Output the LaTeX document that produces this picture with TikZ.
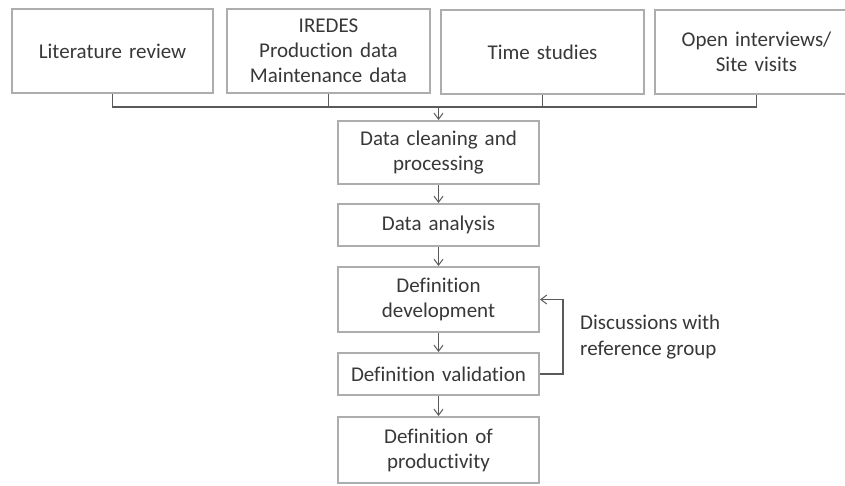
\documentclass[tikz,border=0pt]{standalone}
\usepackage{fontspec}
\setmainfont{Carlito}[Ligatures=NoCommon]
\usetikzlibrary{arrows.meta}
\definecolor{boxgray}{HTML}{ADADAD}
\definecolor{linegray}{HTML}{5A5A5A}
\definecolor{textgray}{HTML}{383838}
\begin{document}
\begin{tikzpicture}[x=1pt,y=-1pt,
  box/.style={draw=boxgray,line width=2pt,fill=white,align=center,text=textgray,
    font=\fontsize{21}{25}\selectfont,inner sep=2pt,text width=197pt},
  conn/.style={draw=linegray,line width=1.2pt},
  arr/.style={conn,-{Straight Barb[length=6pt,width=9pt,line width=1pt]}}]
\clip (0,0) rectangle (845,485);
\fill[white] (0,0) rectangle (845,485);
% top boxes
\node[box,minimum width=201pt,minimum height=84pt] (lit) at (112.5,51) {Literature review};
\node[box,minimum width=203pt,minimum height=84pt] (ire) at (328.5,51) {IREDES\\Production data\\Maintenance data};
\node[box,minimum width=203pt,minimum height=84pt] (tim) at (542.5,52) {Time studies};
\node[box,minimum width=203pt,minimum height=84pt] (opn) at (756.5,52) {Open interviews/\\Site visits};
% flow boxes
\node[box,minimum width=201pt,minimum height=63pt] (cln) at (438.5,152.5) {Data cleaning and\\processing};
\node[box,minimum width=201pt,minimum height=42pt] (ana) at (438.5,225) {Data analysis};
\node[box,minimum width=201pt,minimum height=65pt] (dev) at (438.5,299.5) {Definition\\development};
\node[box,minimum width=201pt,minimum height=42pt] (val) at (438.5,374) {Definition validation};
\node[box,minimum width=201pt,minimum height=66pt] (prd) at (438.5,450) {Definition of\\productivity};
% bus
\coordinate (busL) at (lit.south |- 0,107);
\coordinate (busR) at (opn.south |- 0,107);
\coordinate (busM) at (cln.north |- 0,107);
\draw[conn] (lit.south) -- (busL) -- (busR) -- (opn.south);
\draw[conn] (ire.south) -- (ire.south |- busL);
\draw[conn] (tim.south) -- (tim.south |- busL);
\draw[arr] (busM) -- (cln.north);
% flow arrows
\draw[arr] (cln.south) -- (ana.north);
\draw[arr] (ana.south) -- (dev.north);
\draw[arr] (dev.south) -- (val.north);
\draw[arr] (val.south) -- (prd.north);
% feedback
\coordinate (fb1) at (563,374);
\coordinate (fb2) at (563,299.5);
\draw[arr] (val.east) -- (fb1) -- (fb2) -- (dev.east);
\node[anchor=west,align=left,text=textgray,font=\fontsize{21}{26}\selectfont,inner sep=0pt] (lbl) at (580,337) {Discussions with\\reference group};
\end{tikzpicture}
\end{document}
